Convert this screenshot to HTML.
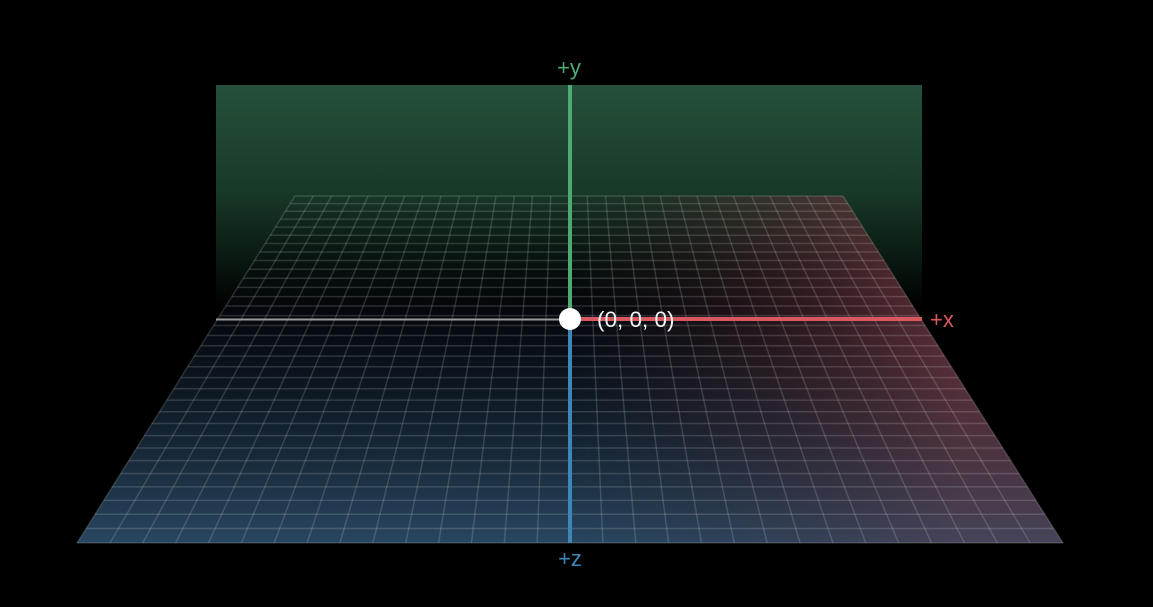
<!DOCTYPE html>
<html><head><meta charset="utf-8"><style>
html,body{margin:0;padding:0;background:#000;width:1153px;height:607px;overflow:hidden}
svg{display:block}
text{font-family:"Liberation Sans","DejaVu Sans",sans-serif}
</style></head><body>
<svg id="c" width="1153" height="607" viewBox="0 0 1153 607">
<defs>
<linearGradient id="wallG" x1="0" y1="0" x2="0" y2="1">
<stop offset="0" stop-color="#25503a"/><stop offset="0.45" stop-color="#183a28"/><stop offset="0.95" stop-color="#000"/></linearGradient>
<linearGradient id="blueG" x1="0" y1="0" x2="0" y2="1">
<stop offset="0" stop-color="#000" stop-opacity="0"/><stop offset="0.35" stop-color="#08101a" stop-opacity="0.6"/><stop offset="1" stop-color="#2d4e6b"/></linearGradient>
<linearGradient id="redG" gradientUnits="userSpaceOnUse" x1="570" y1="0" x2="960" y2="0">
<stop offset="0" stop-color="#3a1a1e" stop-opacity="0"/><stop offset="1" stop-color="#84404a" stop-opacity="0.9"/></linearGradient>
<linearGradient id="maskG" x1="0" y1="0" x2="0" y2="1">
<stop offset="0" stop-color="#fff"/><stop offset="0.4" stop-color="#fff" stop-opacity="0.85"/><stop offset="1" stop-color="#fff" stop-opacity="0.4"/></linearGradient>
<mask id="redMask" maskUnits="userSpaceOnUse" x="0" y="0" width="1153" height="607">
<rect x="0" y="196" width="1153" height="347" fill="url(#maskG)"/></mask>
</defs>
<rect x="216" y="85" width="706" height="235" fill="url(#wallG)"/>
<g id="floor"></g>
<line x1="216" y1="319.5" x2="570" y2="319.5" stroke="#9a9a9a" stroke-width="2"/>
<line x1="570" y1="319" x2="922" y2="319" stroke="#d9575e" stroke-width="4"/>
<line x1="570" y1="85" x2="570" y2="319" stroke="#4eaa72" stroke-width="4"/>
<line x1="570" y1="319" x2="570" y2="543" stroke="#3f86b8" stroke-width="4"/>
<circle cx="570" cy="319" r="11" fill="#fff"/>
<text x="597" y="327" font-size="22.5" fill="#f2f2f2">(0, 0, 0)</text>
<text x="930" y="327" font-size="22" fill="#d9575e">+x</text>
<text x="569" y="75" font-size="22" fill="#4eaa72" text-anchor="middle">+y</text>
<text x="570" y="566" font-size="22" fill="#3f86b8" text-anchor="middle">+z</text>
</svg>
<script>
const gridColumns = 30;
const gridRows = 33;
const NS = "http://www.w3.org/2000/svg";
const g = document.getElementById('floor');
const topY = 196, botY = 543, topL = 295, topR = 843, botL = 77, botR = 1063, k = 0.4;
function depthY(t){
  const f = (1/(1+k*(1-t)) - 1/(1+k)) / (1 - 1/(1+k));
  return topY + f*(botY-topY);
}
function edgeX(y, side){
  const f = (y-topY)/(botY-topY);
  return side===0 ? topL + f*(botL-topL) : topR + f*(botR-topR);
}
const pts = `${topL},${topY} ${topR},${topY} ${botR},${botY} ${botL},${botY}`;
[['url(#blueG)','floor-blue-shade',null],['url(#redG)','floor-red-shade','url(#redMask)']].forEach(([f,n,m])=>{
  const p = document.createElementNS(NS,'polygon');
  p.setAttribute('points', pts);
  p.setAttribute('fill', f);
  p.setAttribute('fill-opacity', '0.9');
  if(m) p.setAttribute('mask', m);
  
  
  g.appendChild(p);
});
for(let i=0;i<=gridRows;i++){
  const y = depthY(i/gridRows);
  const l = document.createElementNS(NS,'line');
  l.setAttribute('x1', edgeX(y,0)); l.setAttribute('x2', edgeX(y,1));
  l.setAttribute('y1', y); l.setAttribute('y2', y);
  l.setAttribute('stroke', 'rgba(255,255,255,0.15)');
  l.setAttribute('stroke-width', '1.5');
  
  
  g.appendChild(l);
}
for(let j=0;j<=gridColumns;j++){
  const f = j/gridColumns;
  const l = document.createElementNS(NS,'line');
  l.setAttribute('x1', topL + f*(topR-topL)); l.setAttribute('y1', topY);
  l.setAttribute('x2', botL + f*(botR-botL)); l.setAttribute('y2', botY);
  l.setAttribute('stroke', 'rgba(255,255,255,0.15)');
  l.setAttribute('stroke-width', '1.5');
  
  
  g.appendChild(l);
}
</script>
</body></html>
